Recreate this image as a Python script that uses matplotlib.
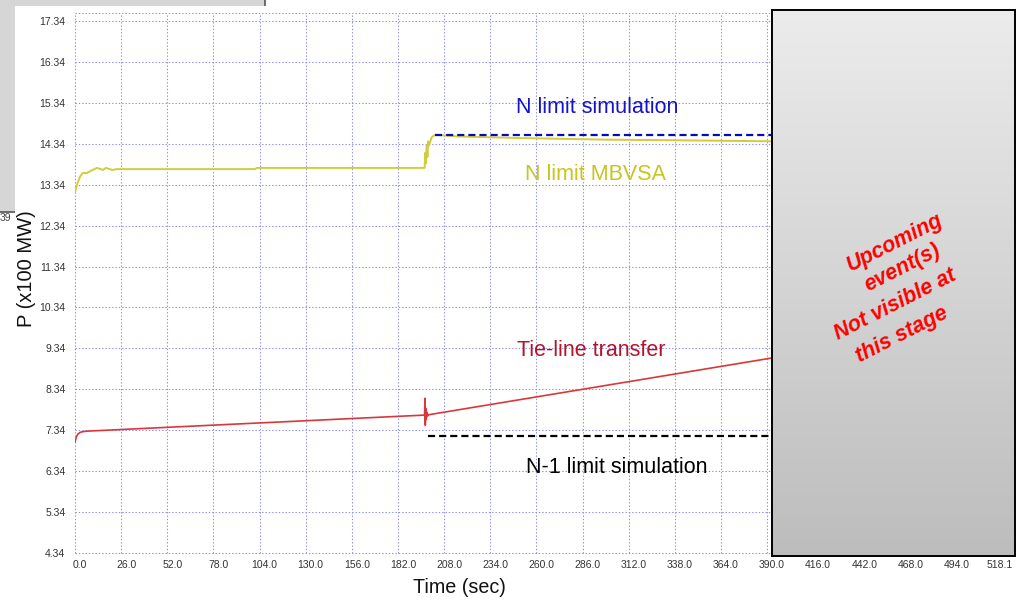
import matplotlib

matplotlib.use('Agg')  # no display here
import matplotlib.pyplot as plt
import matplotlib.transforms as mtransforms
import numpy as np
from matplotlib.patches import Rectangle
from matplotlib.lines import Line2D

plt.rcParams['font.family'] = ['Liberation Sans', 'DejaVu Sans']

# Tie-line power (x100 MW) vs time (s)
time_tie = [0, 0.7, 1.5, 3.0, 5.0, 8.0, 197.0, 197.2, 197.4, 197.6, 197.9, 198.3, 198.8, 199.5, 392.0]
p_tie = [7.05, 7.17, 7.24, 7.29, 7.31, 7.32, 7.71, 8.12, 7.46, 7.88, 7.60, 7.78, 7.69, 7.72, 9.10]

# N limit from MBVSA
time_mbvsa = [0, 0.8, 1.7, 3.0, 4.5, 6.5, 9.0, 12.4, 15.8, 17.4, 21.0, 23.6, 101.5, 102.5,
              197.0, 197.4, 197.8, 198.2, 198.6, 199.0, 199.5, 201.0, 203.0, 215.0, 250.0,
              300.0, 350.0, 392.0]
p_mbvsa = [13.14, 13.30, 13.41, 13.55, 13.63, 13.62, 13.68, 13.75, 13.70, 13.75, 13.70, 13.72,
           13.72, 13.75, 13.75, 14.12, 13.86, 14.30, 14.02, 14.40, 14.30, 14.50, 14.56, 14.52,
           14.48, 14.44, 14.42, 14.40]

# limits from simulation, valid after the event
n_limit_sim = 14.56
n_limit_sim_span = [203.0, 392.0]
n1_limit_sim = 7.19
n1_limit_sim_span = [199.0, 392.0]

x_ticks = [0.0, 26.0, 52.0, 78.0, 104.0, 130.0, 156.0, 182.0, 208.0, 234.0, 260.0, 286.0,
           312.0, 338.0, 364.0, 390.0, 416.0, 442.0, 468.0, 494.0, 518.1]
y_ticks = [4.34, 5.34, 6.34, 7.34, 8.34, 9.34, 10.34, 11.34, 12.34, 13.34, 14.34, 15.34, 16.34, 17.34]

notice_lines = ['Upcoming', 'event(s)', 'Not visible at', 'this stage']

W, H = 1023, 601
fig = plt.figure(figsize=(W / 100, H / 100), dpi=100)
fig.patch.set_facecolor('white')

# window frame left over in the corner
fig.patches.append(Rectangle((0, 1 - 212 / H), 265 / W, 212 / H, transform=fig.transFigure,
                             facecolor='#d6d6d6', edgecolor='none', zorder=0))
fig.lines.append(Line2D([0, 265 / W, 265 / W], [1 - 212 / H, 1 - 212 / H, 1], transform=fig.transFigure,
                        color='#555555', lw=1.2, zorder=0.2))
fig.text(0.0, 1 - 218 / H, '39', fontsize=7.5, color='#444444', va='center', zorder=0.5)
fig.patches.append(Rectangle((15 / W, 0), 1, 1 - 6 / H, transform=fig.transFigure,
                             facecolor='white', edgecolor='none', zorder=1))

ax = fig.add_axes([75 / W, 1 - 553 / H, 919.4 / W, 540 / H])
ax.set_zorder(3)
ax.set_xlim(0, 518.1)
ax.set_ylim(4.34, 17.535)

grid_style = dict(color='#8c8cf0', lw=0.75, linestyle=(0, (1.3, 1.9)))
ax.set_xticks(x_ticks)
ax.set_yticks(y_ticks)
ax.set_xticklabels(['%.1f' % t for t in x_ticks])
ax.set_yticklabels(['%.2f' % p for p in y_ticks])
ax.grid(True, **grid_style)
for gl in ax.get_xgridlines() + ax.get_ygridlines():
    gl.set_clip_on(False)
ax.axhline(17.535, clip_on=False, **grid_style)
for s in ax.spines.values():
    s.set_visible(False)
ax.tick_params(length=0, labelsize=7.5, labelcolor='#333333')
ax.tick_params(axis='y', pad=7)
ax.tick_params(axis='x', pad=5)
shift = mtransforms.ScaledTranslation(5 / 100, 0, fig.dpi_scale_trans)
for lbl in ax.get_xticklabels():
    lbl.set_transform(lbl.get_transform() + shift)

ax.plot(time_mbvsa, p_mbvsa, color='#d0cc3a', lw=1.4)
ax.plot(time_tie, p_tie, color='#d93838', lw=1.2)
ax.hlines(n_limit_sim, *n_limit_sim_span, color='#0a0ab4', lw=1.6, linestyles=(0, (3.2, 1.8)))
ax.hlines(n1_limit_sim, *n1_limit_sim_span, color='black', lw=1.6, linestyles=(0, (3.2, 1.8)))

ax.text(294.4, 15.092, 'N limit simulation', color='#1414c8', fontsize=15.5, ha='center', va='baseline')
ax.text(293.5, 13.454, 'N limit MBVSA', color='#c8c420', fontsize=15.5, ha='center', va='baseline')
ax.text(290.7, 9.153, 'Tie-line transfer', color='#b3142c', fontsize=15.5, ha='center', va='baseline')
ax.text(305.2, 6.294, 'N-1 limit simulation', color='black', fontsize=15.5, ha='center', va='baseline')

ax.set_xlabel('Time (sec)', fontsize=14.2, color='#111111')
ax.xaxis.set_label_coords(0.418, -0.046)
ax.set_ylabel('P (x100 MW)', fontsize=14.5, color='#111111')
ax.yaxis.set_label_coords(-0.042, 0.526)

# grey curtain over the part of the run not reached yet
cover = fig.add_axes([772 / W, 1 - 556 / H, 243 / W, 546 / H])
cover.set_zorder(5)
shade = np.linspace(0, 1, 256)[:, None]
top, bottom = np.array([0.925, 0.925, 0.925]), np.array([0.74, 0.74, 0.74])
cover.imshow(top + shade[:, :, None] * (bottom - top), aspect='auto', extent=(0, 1, 0, 1))
cover.set_xticks([])
cover.set_yticks([])
for s in cover.spines.values():
    s.set_linewidth(1.4)
    s.set_color('black')
# slanted notice, one line at a time
for line, cx, cy in zip(notice_lines, [0.506, 0.535, 0.506, 0.533], [0.573, 0.527, 0.460, 0.405]):
    cover.text(cx, cy, line, transform=cover.transAxes, color='#ff0000', fontsize=15.5,
               fontweight='bold', fontstyle='italic', rotation=27, rotation_mode='anchor',
               ha='center', va='center')

fig.savefig('out.png', dpi=100)
